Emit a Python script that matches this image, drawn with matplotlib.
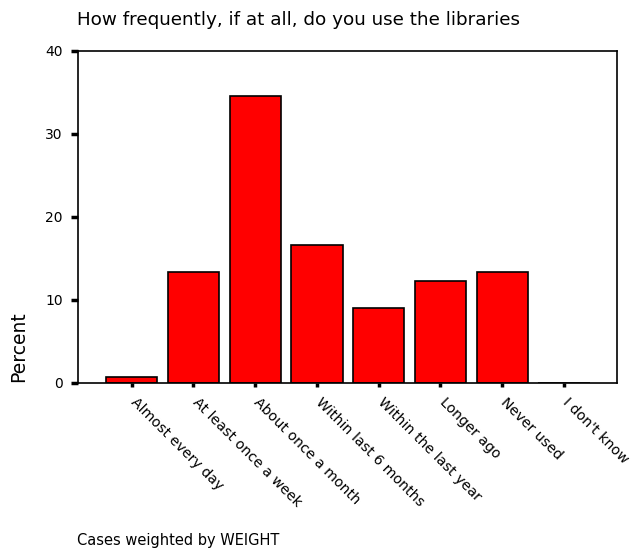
import numpy as np
import matplotlib.transforms as mtransforms
from matplotlib import pyplot as plt

categories = ['Almost every day', 'At least once a week', 'About once a month',
              'Within last 6 months', 'Within the last year', 'Longer ago',
              'Never used', "I don't know"]
percent = [0.7, 13.4, 34.6, 16.6, 9.0, 12.3, 13.4, 0.0]
yticks = [0, 10, 20, 30, 40]

plt.rcParams['font.family'] = 'DejaVu Sans'

fig = plt.figure(figsize=(6.36, 5.54), dpi=100)
ax = fig.add_axes([0.1226, 0.3087, 0.8475, 0.5993])

x = np.arange(len(categories))
ax.bar(x, percent, width=0.83, color='#ff0000', edgecolor='black', linewidth=1.2)

ax.set_xlim(-0.87, 7.86)
ax.set_ylim(0, 40)
ax.set_yticks(yticks)
ax.set_xticks(x)
ax.set_xticklabels(categories, rotation=-45, ha='left', va='top',
                   rotation_mode='anchor', fontsize=10.2)
ax.tick_params(axis='y', length=5, width=2.5, labelsize=10, pad=6)
ax.tick_params(axis='x', length=3, width=2.5, pad=6)

# nudge the slanted labels a little to the right, like the original
shift = mtransforms.ScaledTranslation(0.06, 0, fig.dpi_scale_trans)
for lbl in ax.get_xticklabels():
    lbl.set_transform(lbl.get_transform() + shift)

for s in ax.spines.values():
    s.set_linewidth(1.2)

fig.text(0.121, 0.964, 'How frequently, if at all, do you use the libraries',
         fontsize=13.2, ha='left', va='center')
fig.text(0.029, 0.374, 'Percent', rotation=90, fontsize=13.5, ha='center', va='center')
fig.text(0.121, 0.0235, 'Cases weighted by WEIGHT', fontsize=10.5, ha='left', va='center')

plt.savefig('out.png')
